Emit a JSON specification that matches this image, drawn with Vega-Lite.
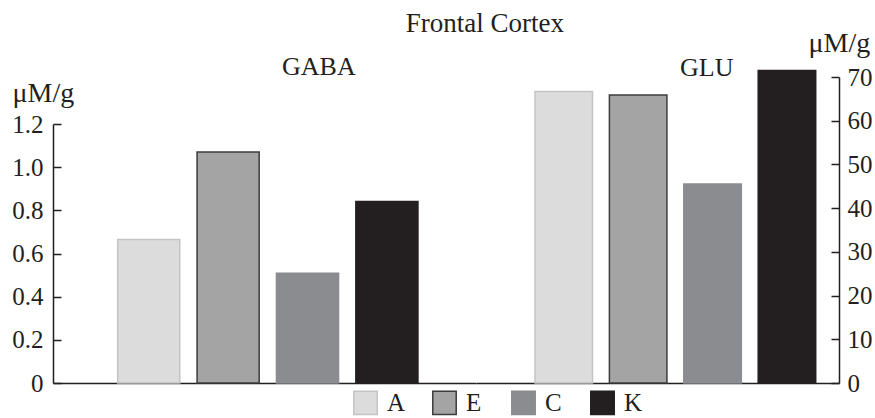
{
  "$schema": "https://vega.github.io/schema/vega-lite/v6.json",
  "autosize": {"type": "pad"},
  "padding": {"left": 11, "top": 10, "right": 3, "bottom": 1},
  "background": "white",
  "title": {"text": "Frontal Cortex", "font": "Liberation Serif", "fontSize": 27, "fontWeight": "normal", "color": "#231f20", "anchor": "middle", "dx": 43, "offset": -9},
  "data": {"values": [
    {"measure": "GABA", "group": "A", "value": 0.665},
    {"measure": "GABA", "group": "E", "value": 1.07},
    {"measure": "GABA", "group": "C", "value": 0.509},
    {"measure": "GABA", "group": "K", "value": 0.841},
    {"measure": "GLU", "group": "A", "value": 66.7},
    {"measure": "GLU", "group": "E", "value": 65.9},
    {"measure": "GLU", "group": "C", "value": 45.5},
    {"measure": "GLU", "group": "K", "value": 71.5}
  ]},
  "spacing": 0,
  "hconcat": [
    {
      "title": {"text": "GABA", "anchor": "start", "frame": "group", "dx": 229, "dy": 25, "baseline": "alphabetic", "offset": -5},
      "width": 423,
      "height": 312,
      "transform": [{"filter": "datum.measure === 'GABA'"}],
      "mark": {"type": "bar", "strokeWidth": 1.5},
      "encoding": {
        "x": {"field": "group", "type": "nominal", "sort": ["A", "E", "C", "K"],
          "scale": {"paddingInner": 0.218, "paddingOuter": 0.773, "align": 0.527},
          "axis": {"labels": false, "ticks": false, "title": null, "domain": true}},
        "y": {"field": "value", "type": "quantitative",
          "scale": {"domain": [0, 1.2], "range": [312, 53], "nice": false},
          "axis": {"values": [0, 0.2, 0.4, 0.6, 0.8, 1.0, 1.2], "format": ".1f", "labelExpr": "datum.value === 0 ? '0' : datum.label",
            "title": "μM/g", "titleAngle": 0, "titleAlign": "left", "titleBaseline": "alphabetic", "titleX": -41, "titleY": 30,
            "tickSize": -8, "labelPadding": 18, "grid": false}},
        "color": {"field": "group", "type": "nominal",
          "scale": {"domain": ["A", "E", "C", "K"], "range": ["#dcdcdc", "#a4a4a4", "#8b8c90", "#231f20"]},
          "legend": {"title": null}},
        "stroke": {"field": "group", "type": "nominal",
          "scale": {"domain": ["A", "E", "C", "K"], "range": ["#c4c4c4", "#3c3c3c", "#8b8c90", "#231f20"]},
          "legend": {"title": null}}
      }
    },
    {
      "title": {"text": "GLU", "anchor": "start", "frame": "group", "dx": 204, "dy": 68, "baseline": "alphabetic", "offset": -5},
      "width": 363,
      "height": 312,
      "transform": [{"filter": "datum.measure === 'GLU'"}],
      "mark": {"type": "bar", "strokeWidth": 1.5},
      "encoding": {
        "x": {"field": "group", "type": "nominal", "sort": ["A", "E", "C", "K"],
          "scale": {"paddingInner": 0.227, "paddingOuter": 0.553, "align": 0.717},
          "axis": {"labels": false, "ticks": false, "title": null, "domain": true}},
        "y": {"field": "value", "type": "quantitative",
          "scale": {"domain": [0, 70], "range": [312, 6], "nice": false},
          "axis": {"orient": "right", "values": [0, 10, 20, 30, 40, 50, 60, 70],
            "title": "μM/g", "titleAngle": 0, "titleAlign": "left", "titleBaseline": "alphabetic", "titleX": -31, "titleY": -20,
            "tickSize": -8, "labelPadding": 16, "grid": false}},
        "color": {"field": "group", "type": "nominal",
          "scale": {"domain": ["A", "E", "C", "K"], "range": ["#dcdcdc", "#a4a4a4", "#8b8c90", "#231f20"]},
          "legend": {"title": null}},
        "stroke": {"field": "group", "type": "nominal",
          "scale": {"domain": ["A", "E", "C", "K"], "range": ["#c4c4c4", "#3c3c3c", "#8b8c90", "#231f20"]},
          "legend": {"title": null}}
      }
    }
  ],
  "resolve": {"scale": {"y": "independent", "x": "independent"}},
  "config": {
    "view": {"stroke": null},
    "font": "Liberation Serif",
    "title": {"font": "Liberation Serif", "fontSize": 26, "fontWeight": "normal", "color": "#231f20"},
    "axis": {"labelFont": "Liberation Serif", "labelFontSize": 25, "labelColor": "#231f20",
      "titleFont": "Liberation Serif", "titleFontSize": 28, "titleFontWeight": "normal", "titleColor": "#231f20",
      "domainColor": "#231f20", "domainWidth": 1.5, "tickColor": "#231f20", "tickWidth": 1.5},
    "legend": {"orient": "none", "legendX": 300, "legendY": 319, "padding": 0, "direction": "horizontal", "labelFont": "Liberation Serif", "labelFontSize": 25, "labelColor": "#231f20",
      "symbolType": "square", "symbolSize": 550, "symbolStrokeWidth": 1.5, "symbolOpacity": 1, "labelOffset": 9, "columnPadding": 23, "gridAlign": "all"}
  }
}
